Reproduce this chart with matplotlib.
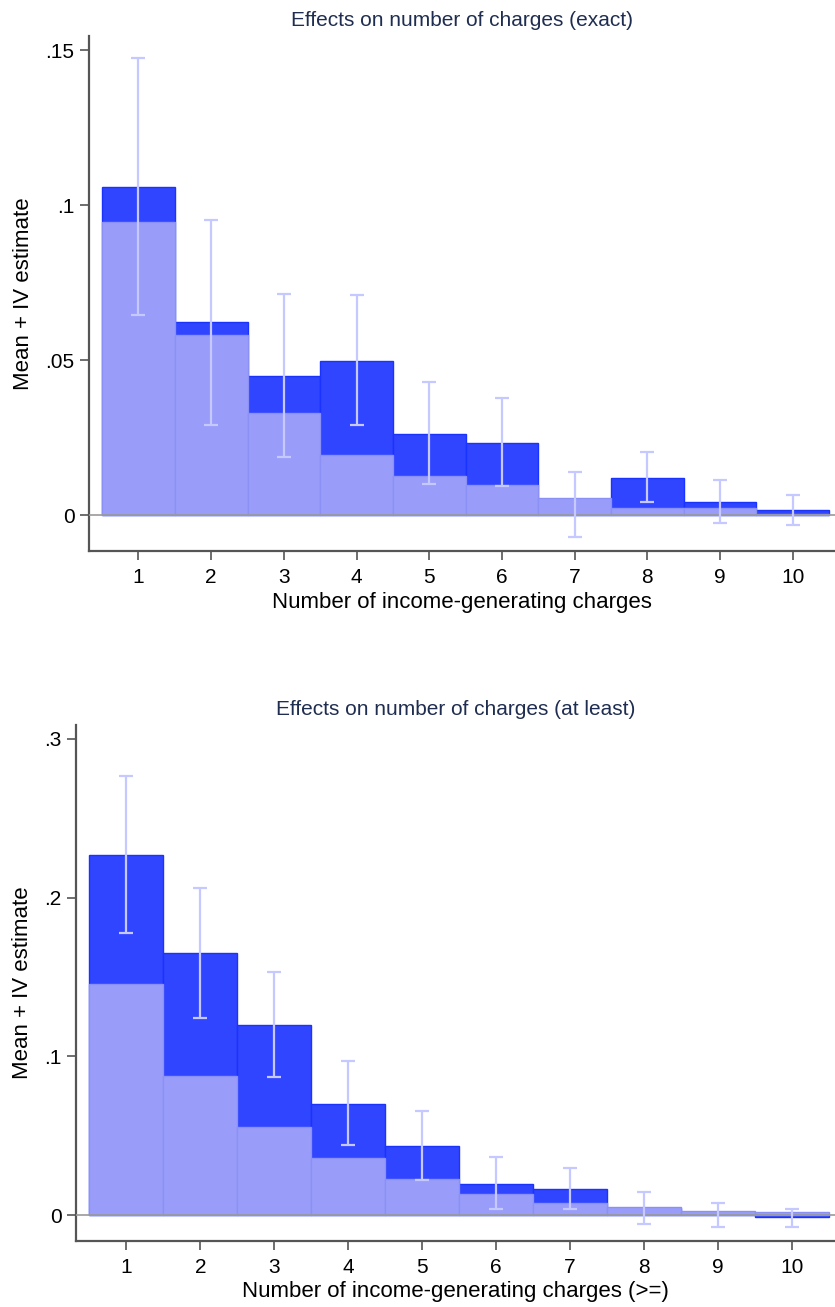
import numpy as np
import matplotlib
matplotlib.use("Agg")
import matplotlib.pyplot as plt
from matplotlib.ticker import FixedLocator, FixedFormatter

plt.rcParams['font.family'] = ['Liberation Sans', 'DejaVu Sans']

charges = np.arange(1, 11)

# panel 1: exact number of charges
exact_mean = [0.0944, 0.0581, 0.0329, 0.0195, 0.0125, 0.0097, 0.0054, 0.0023, 0.0022, 0.0005]
exact_est = [0.1059, 0.0623, 0.0448, 0.0497, 0.0263, 0.0234, 0.0033, 0.0120, 0.0043, 0.0016]
exact_lo = [0.0644, 0.0290, 0.0187, 0.0290, 0.0101, 0.0093, -0.0072, 0.0041, -0.0025, -0.0031]
exact_hi = [0.1475, 0.0952, 0.0713, 0.0710, 0.0428, 0.0378, 0.0138, 0.0202, 0.0113, 0.0065]

# panel 2: at least this many charges
least_mean = [0.1457, 0.0879, 0.0553, 0.0358, 0.0228, 0.0132, 0.0078, 0.0050, 0.0030, 0.0019]
least_est = [0.2270, 0.1650, 0.1200, 0.0698, 0.0436, 0.0200, 0.0166, 0.0048, 0.0002, -0.0013]
least_lo = [0.1778, 0.1243, 0.0868, 0.0440, 0.0222, 0.0038, 0.0040, -0.0052, -0.0073, -0.0073]
least_hi = [0.2763, 0.2059, 0.1533, 0.0970, 0.0654, 0.0367, 0.0298, 0.0149, 0.0077, 0.0042]

DARK = "#3045ff"
DARK_EDGE = "#1b33ff"
LIGHT = "#999df9"
LIGHT_EDGE = "#8b90f4"
ERR = "#c6c9ff"
AXIS = "#555555"
TITLE = "#1f2d50"


def draw_panel(ax, mean, est, lo, hi, title, xlabel, yticks, ylabels, ylim):
    ax.bar(charges, est, width=1.0, color=DARK, edgecolor=DARK_EDGE, linewidth=1.0, zorder=2)
    ax.bar(charges, mean, width=1.0, color=LIGHT, edgecolor=LIGHT_EDGE, linewidth=1.0, zorder=3)
    ax.axhline(0, color="#999999", linewidth=1.2, zorder=4)
    est = np.array(est)
    yerr = np.vstack([est - np.array(lo), np.array(hi) - est])
    ax.errorbar(charges, est, yerr=yerr, fmt="none", ecolor=ERR, elinewidth=1.6,
                capsize=5, capthick=1.6, zorder=5)

    ax.set_xlim(0.32, 10.58)
    ax.set_ylim(*ylim)
    ax.xaxis.set_major_locator(FixedLocator(charges))
    ax.set_xticklabels([str(c) for c in charges])
    ax.yaxis.set_major_locator(FixedLocator(yticks))
    ax.yaxis.set_major_formatter(FixedFormatter(ylabels))

    for side in ["top", "right"]:
        ax.spines[side].set_visible(False)
    for side in ["left", "bottom"]:
        ax.spines[side].set_color(AXIS)
        ax.spines[side].set_linewidth(1.6)
    ax.tick_params(axis="both", direction="out", length=6.5, width=1.2, color=AXIS,
                   labelsize=15, labelcolor="black")
    ax.tick_params(axis="x", pad=6)
    ax.tick_params(axis="y", pad=4)

    ax.set_title(title, fontsize=15, color=TITLE, pad=7)
    ax.set_xlabel(xlabel, fontsize=16, labelpad=3)
    ax.set_ylabel("Mean + IV estimate", fontsize=16, labelpad=8)


fig = plt.figure(figsize=(8.35, 13.07), dpi=100)
ax1 = fig.add_axes([0.1066, 0.5784, 0.8934, 0.394])
ax2 = fig.add_axes([0.091, 0.0507, 0.909, 0.3946])

draw_panel(ax1, exact_mean, exact_est, exact_lo, exact_hi,
           "Effects on number of charges (exact)",
           "Number of income-generating charges",
           [0, 0.05, 0.1, 0.15], ["0", ".05", ".1", ".15"], (-0.0116, 0.1545))
draw_panel(ax2, least_mean, least_est, least_lo, least_hi,
           "Effects on number of charges (at least)",
           "Number of income-generating charges (>=)",
           [0, 0.1, 0.2, 0.3], ["0", ".1", ".2", ".3"], (-0.016, 0.3086))

fig.savefig("out.png", dpi=100)
